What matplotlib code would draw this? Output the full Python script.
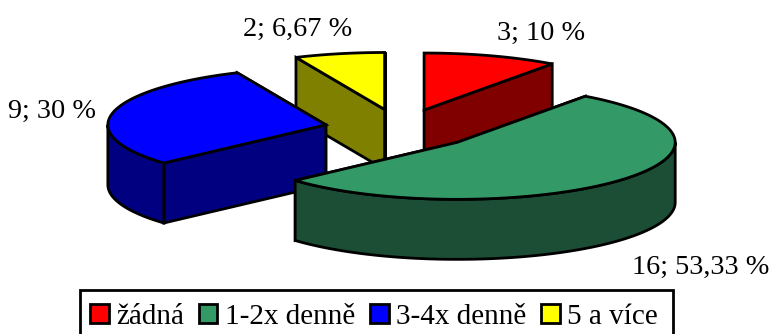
import numpy as np
import matplotlib
matplotlib.use("Agg")
import matplotlib.pyplot as plt
from matplotlib.patches import Patch, Polygon, Rectangle

categories = ["žádná", "1-2x denně", "3-4x denně", "5 a více"]
counts = [3, 16, 9, 2]
point_labels = ["3; 10 %", "16; 53,33 %", "9; 30 %", "2; 6,67 %"]
top_colors = ["#FF0000", "#339966", "#0000FF", "#FFFF00"]
side_colors = ["#800000", "#1C4E36", "#000080", "#808000"]

# Pie projection, in pixels of the canvas
CX, CY = 400.5, 129.0
RX, RY = 218.0, 57.0
DEPTH = 60.0
EXPLODE = 0.35
LW = 2.0

plt.rcParams["font.family"] = ["Liberation Serif", "DejaVu Serif"]

fig = plt.figure(figsize=(7.72, 3.34), dpi=100, facecolor="white")
ax = fig.add_axes([0, 0, 1, 1])
ax.set_xlim(0, 772)
ax.set_ylim(334, 0)
ax.axis("off")


def project(theta, cx, cy, lift=0.0):
    """Screen position for a clockwise angle measured from twelve o'clock."""
    return np.column_stack([cx + RX * np.sin(theta), cy - RY * np.cos(theta) + lift])


def draw_slice(start, end, top, side):
    mid = (start + end) / 2
    cx = CX + EXPLODE * RX * np.sin(mid)
    cy = CY - EXPLODE * RY * np.cos(mid)
    style = dict(edgecolor="black", linewidth=LW, joinstyle="miter")

    # Radial cut faces, the one further back first
    corners = [project(np.array([a]), cx, cy)[0] for a in (start, end)]
    apex = np.array([cx, cy])
    down = np.array([0, DEPTH])
    for c in sorted(corners, key=lambda p: p[1]):
        ax.add_patch(Polygon([apex, c, c + down, apex + down], closed=True,
                             facecolor=side, **style))

    # Outer wall, only for the part of the rim that faces the viewer
    lo, hi = max(start, np.pi / 2), min(end, 3 * np.pi / 2)
    if hi > lo:
        t = np.linspace(lo, hi, 120)
        ax.add_patch(Polygon(np.vstack([project(t, cx, cy),
                                        project(t[::-1], cx, cy, DEPTH)]),
                             closed=True, facecolor=side, **style))

    # Top surface
    t = np.linspace(start, end, 160)
    ax.add_patch(Polygon(np.vstack([apex, project(t, cx, cy)]), closed=True,
                         facecolor=top, **style))


edges = np.cumsum([0] + counts) / sum(counts) * 2 * np.pi
# Back slices are painted first so the nearer ones overlap them
for i in (3, 0, 2, 1):
    draw_slice(edges[i], edges[i + 1], top_colors[i], side_colors[i])

label_anchors = [(541, 40), (701, 274), (52, 118), (298, 36)]
for text, (x, y) in zip(point_labels, label_anchors):
    ax.text(x, y, text, fontsize=20.3, ha="center", va="baseline", color="black")

# The legend frame runs past the lower edge of the canvas
ax.add_patch(Rectangle((80, 290), 593, 60, facecolor="white", edgecolor="black",
                       linewidth=2.0, clip_on=True))
handles = [Patch(facecolor=c, edgecolor="black", linewidth=2.0) for c in top_colors]
legend = ax.legend(handles, categories, ncol=4, loc="upper left",
                   bbox_to_anchor=(90, 304), bbox_transform=ax.transData,
                   fontsize=21, frameon=False, handlelength=0.64, handleheight=0.64,
                   handletextpad=0.26, columnspacing=0.5, borderpad=0,
                   borderaxespad=0)

fig.savefig("out.png", dpi=100, facecolor="white")
